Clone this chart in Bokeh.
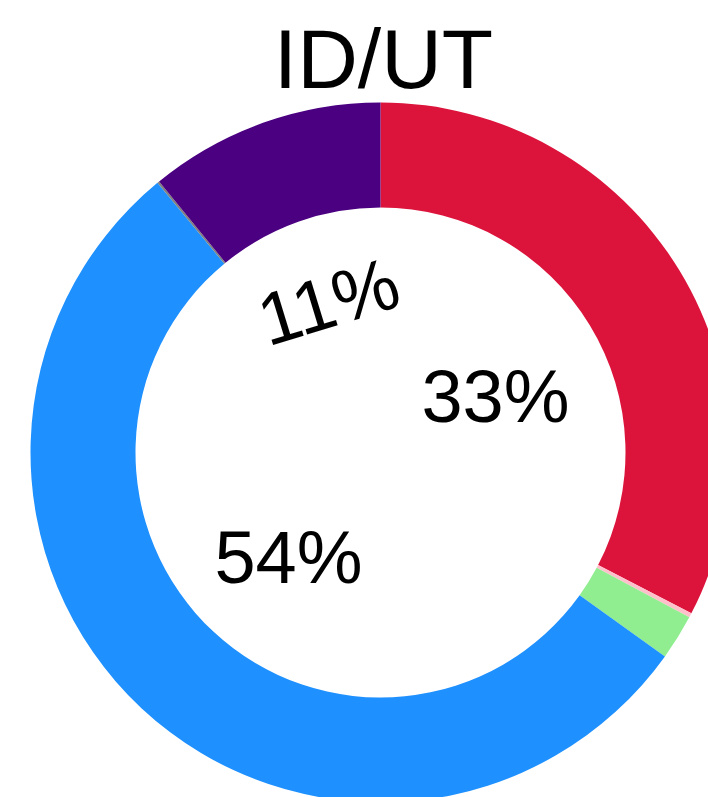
import math
from bokeh.plotting import figure
from bokeh.models import ColumnDataSource, Range1d
from bokeh.core.properties import value
from bokeh.embed import file_html
from bokeh.resources import INLINE

# ---- data ----
title_text = "ID/UT"
categories = ["A", "B", "C", "D", "E", "F"]
shares = [32.6, 0.2, 2.1, 54.1, 0.1, 10.9]
colors = ["#DC143C", "#FFC0CB", "#90EE90", "#1E90FF", "#808080", "#4B0082"]
label_texts = ["33%", "11%", "54%"]

# ---- layout (styling only) ----
label_x = [115, -52, -92]
label_y = [56, 151, -105]
label_angle_deg = [0, 17, 0]

W, H = 708, 797
cx_px, cy_px = 380, 452  # donut centre inside plot (from top-left)
R_OUT, R_IN = 350, 245

p = figure(width=W, height=H, output_backend="svg", toolbar_location=None,
           x_range=Range1d(-cx_px, W - cx_px), y_range=Range1d(-(H - cy_px), cy_px),
           min_border=0)
p.axis.visible = False
p.grid.visible = False
p.outline_line_color = None
p.background_fill_color = "white"
p.border_fill_color = "white"

total = sum(shares)
starts, ends = [], []
cum = 0.0
for s in shares:
    starts.append(math.pi / 2 - 2 * math.pi * cum / total)
    cum += s
    ends.append(math.pi / 2 - 2 * math.pi * cum / total)

src = ColumnDataSource(dict(cat=categories, start=starts, end=ends, color=colors))
p.annular_wedge(x=0, y=0, inner_radius=R_IN, outer_radius=R_OUT,
                start_angle="start", end_angle="end", direction="clock",
                fill_color="color", line_color=None, source=src)

lsrc = ColumnDataSource(dict(x=label_x, y=label_y, t=label_texts,
                             a=[math.radians(d) for d in label_angle_deg]))
p.text(x="x", y="y", text="t", angle="a", source=lsrc,
       text_font=value("Liberation Sans"), text_font_size="74px",
       text_align="center", text_baseline="alphabetic", text_color="black")

p.text(x=[3], y=[394], text=[title_text], text_font=value("Liberation Sans"),
       text_font_size="84px", text_align="center", text_baseline="alphabetic",
       text_color="black")

open("out.html", "w").write(file_html(p, INLINE))
